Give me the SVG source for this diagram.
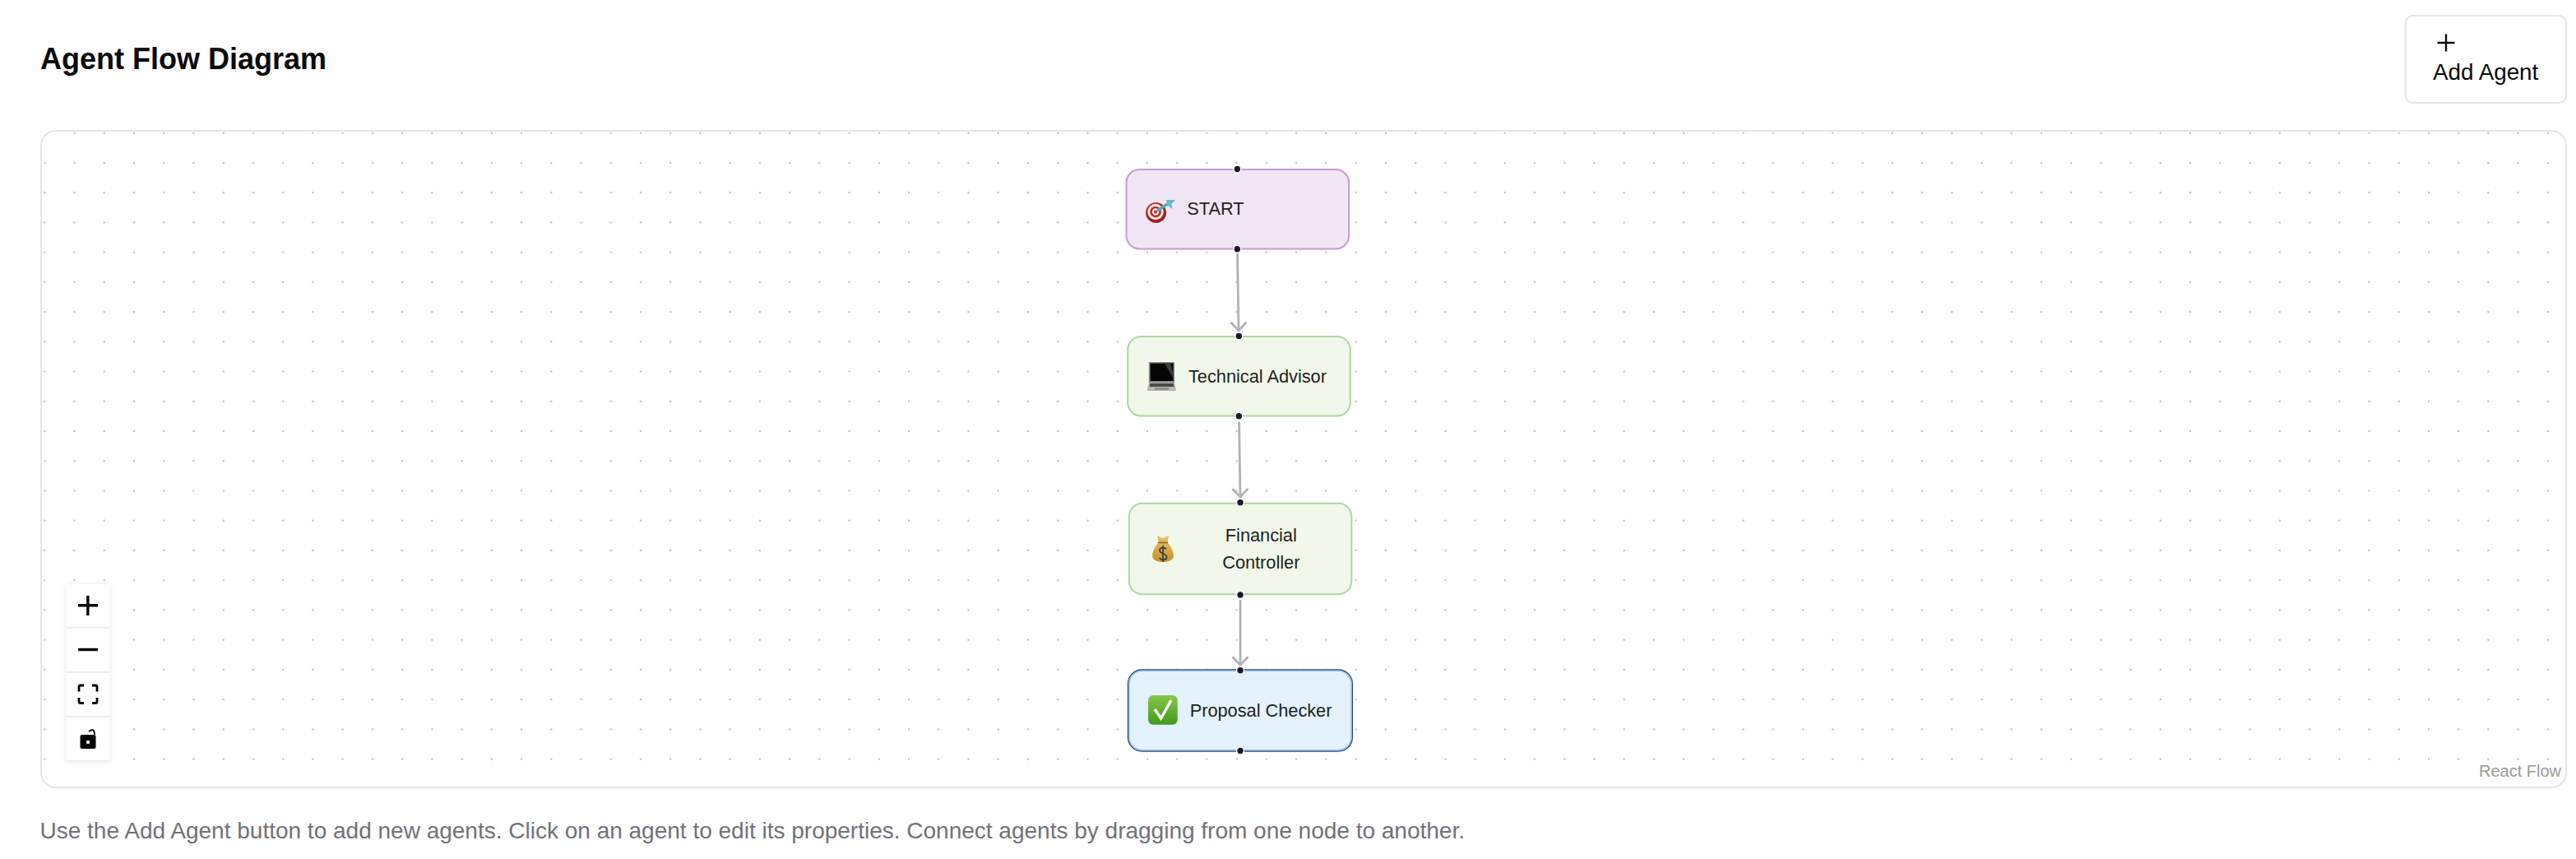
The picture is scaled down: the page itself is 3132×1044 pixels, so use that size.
<svg xmlns="http://www.w3.org/2000/svg" width="3132" height="1044" viewBox="0 0 3132 1044">
<style>
text{font-family:"Liberation Sans",Arial,sans-serif}
.lbl{font-size:21.74px;fill:#222}
.node{stroke-width:2}
.h{fill:#1a192b;stroke:#fff;stroke-width:1.4}
.edge{fill:none;stroke:#b1b1b7;stroke-width:2.8}
.ctl{fill:#fefefe}
.ico{fill:none;stroke:#000;stroke-width:3.4}
</style>
<defs>
<pattern id="dots" x="54.3" y="161.7" width="36.233" height="36.233" patternUnits="userSpaceOnUse">
<circle cx="0" cy="0" r="1.25" fill="#c0c0c0"/><circle cx="36.233" cy="0" r="1.25" fill="#c0c0c0"/><circle cx="0" cy="36.233" r="1.25" fill="#c0c0c0"/><circle cx="36.233" cy="36.233" r="1.25" fill="#c0c0c0"/>
</pattern>
<marker id="arrow" markerUnits="userSpaceOnUse" viewBox="-12 -12 24 24" markerWidth="24" markerHeight="24" orient="auto" refX="0" refY="0">
<path d="M-10,-9.5 L0,0 L-10,9.5" fill="none" stroke="#b1b1b7" stroke-width="2.8"/>
</marker>
<linearGradient id="chk" x1="0" y1="0" x2="0" y2="1"><stop offset="0" stop-color="#86c84a"/><stop offset="1" stop-color="#419a1c"/></linearGradient>
<linearGradient id="bag" x1="0" y1="0" x2="0" y2="1"><stop offset="0" stop-color="#e8c468"/><stop offset="1" stop-color="#c8922c"/></linearGradient>
<radialGradient id="tgt" cx=".4" cy=".35" r=".8"><stop offset="0" stop-color="#d8352a"/><stop offset="1" stop-color="#8c1a14"/></radialGradient>
<filter id="sh" x="-30%" y="-10%" width="160%" height="120%"><feDropShadow dx="0" dy="1" stdDeviation="3" flood-color="#000" flood-opacity=".12"/></filter>
</defs>
<rect width="3132" height="1044" fill="#fff"/>
<text id="title" x="49" y="84" font-size="36" font-weight="700" fill="#0a0a0a">Agent Flow Diagram</text>
<g id="add-agent">
<rect x="2925" y="19" width="195" height="106" rx="9" fill="#fff" stroke="#e5e5e5" stroke-width="2"/>
<path d="M2974,41.5V62.5M2963.5,52H2984.5" fill="none" stroke="#0a0a0a" stroke-width="2.4"/>
<text x="2958" y="97" font-size="27.8" fill="#0a0a0a">Add Agent</text>
</g>
<g id="canvas">
<rect x="50" y="159" width="3070" height="798" rx="18" fill="#fff"/>
<rect x="50" y="159" width="3070" height="798" rx="18" fill="url(#dots)"/>
<rect x="50" y="159" width="3070" height="798" rx="18" fill="none" stroke="#e5e5e5" stroke-width="2"/>
</g>
<g id="connectors">
<path class="edge" d="M1504.5,308L1506,401.7" marker-end="url(#arrow)"/>
<path class="edge" d="M1506.5,512.7L1508,604" marker-end="url(#arrow)"/>
<path class="edge" d="M1508,729V808.3" marker-end="url(#arrow)"/>
</g>
<g id="node-start">
<rect class="node" x="1369.5" y="206" width="270.5" height="96.5" rx="16" fill="#f1e6f4" stroke="#cb98d8"/>
<circle cx="1405.5" cy="258.5" r="12.5" fill="url(#tgt)"/><circle cx="1405" cy="257.5" r="9.7" fill="#f4ecea"/><circle cx="1405" cy="257.5" r="6.8" fill="#c8281e"/><circle cx="1405" cy="257.5" r="4.2" fill="#f4ecea"/><circle cx="1405" cy="257.5" r="2" fill="#c8281e"/>
<path d="M1407,256L1421,247" stroke="#4fb0c0" stroke-width="3.6"/><path d="M1418,243L1429,243L1424,248L1426,254L1420,250Z" fill="#62bccb"/>
<text class="lbl" x="1443.3" y="261">START</text>
<circle class="h" cx="1504.3" cy="205.5" r="4.4"/><circle class="h" cx="1504.3" cy="302.8" r="4.4"/>
</g>
<g id="node-technical-advisor">
<rect class="node" x="1371.2" y="409" width="270.5" height="96.5" rx="16" fill="#f1f8e9" stroke="#aed6a0"/>
<path d="M1396.8,440H1428V466H1396.8Z" fill="#8a8a8a"/><path d="M1398.5,441.5H1426.5V463H1398.5Z" fill="#050505"/><path d="M1416,441.5H1423L1426.5,455V460Z" fill="#3c3c3c"/>
<path d="M1397,465H1428L1430,475H1394.5Z" fill="#b4b4b4"/><path d="M1398.5,466H1426.5L1427.5,470H1397.5Z" fill="#4a4a4a"/><path d="M1404,471H1421V474H1404Z" fill="#8f8f8f"/>
<text class="lbl" x="1445" y="465">Technical Advisor</text>
<circle class="h" cx="1506.3" cy="408.5" r="4.4"/><circle class="h" cx="1506.3" cy="505.8" r="4.4"/>
</g>
<g id="node-financial-controller">
<rect class="node" x="1372.8" y="611.7" width="270.5" height="110.5" rx="16" fill="#f1f8e9" stroke="#aed6a0"/>
<path d="M1407,651L1414,654L1421,651L1419.5,659C1423,663 1427,671 1427,675C1427,681 1421,683 1414,683C1407,683 1401,681 1401,675C1401,671 1405,663 1408.5,659Z" fill="url(#bag)"/>
<path d="M1408,659.5H1420" stroke="#8c6a22" stroke-width="1.6"/>
<path d="M1418,667.5C1416,664.5 1410,665 1410,669C1410,673.5 1418.5,672 1418.5,677C1418.5,681 1412,681.5 1409.5,678M1414,663V683" fill="none" stroke="#3b3a4a" stroke-width="1.7"/>
<text class="lbl" x="1533.3" y="658" text-anchor="middle">Financial</text>
<text class="lbl" x="1533.3" y="691" text-anchor="middle">Controller</text>
<circle class="h" cx="1508" cy="610.7" r="4.4"/><circle class="h" cx="1508" cy="723" r="4.4"/>
</g>
<g id="node-proposal-checker">
<rect x="1371.5" y="814" width="272.8" height="99" rx="17" fill="#e3f2fd" stroke="#2f3f5f" stroke-width="1.4"/>
<rect x="1372.8" y="815.3" width="270.2" height="96.4" rx="15.8" fill="none" stroke="#8fbdf0" stroke-width="1.6"/>
<rect x="1396" y="845" width="35.7" height="35.7" rx="6" fill="url(#chk)"/>
<path d="M1404,862L1411.5,873L1424,851" fill="none" stroke="#fff" stroke-width="3.4"/>
<text class="lbl" x="1446.7" y="871">Proposal Checker</text>
<circle class="h" cx="1508" cy="814.7" r="4.4"/><circle class="h" cx="1508" cy="912.5" r="4.4"/>
</g>
<g id="controls">
<g filter="url(#sh)"><rect class="ctl" x="80.7" y="710" width="52.6" height="214"/></g>
<path d="M80.7,763H133.3M80.7,817H133.3M80.7,871H133.3" stroke="#eee" stroke-width="2"/>
<path class="ico" d="M106.8,724V748M95,735.8H119"/>
<path d="M95,789.5H119" stroke="#000" stroke-width="3.4"/>
<path d="M96,840.5V835Q96,833 98,833H102M112,833H116Q118,833 118,835V840.5M96,848V853Q96,854.5 98,854.5H102M112,854.5H116Q118,854.5 118,853V848" fill="none" stroke="#000" stroke-width="2.8"/>
<path d="M108,889Q112,886 114,888Q115,890 115,893" fill="none" stroke="#000" stroke-width="1.8"/>
<rect x="97.5" y="893" width="19" height="17" rx="2.5" fill="#000"/><circle cx="107" cy="902" r="2.2" fill="#fff"/>
</g>
<text id="attribution" x="3014" y="944" font-size="20" fill="#999">React Flow</text>
<text id="help" x="48.5" y="1018.5" font-size="28" fill="#71717a">Use the Add Agent button to add new agents. Click on an agent to edit its properties. Connect agents by dragging from one node to another.</text>
</svg>
